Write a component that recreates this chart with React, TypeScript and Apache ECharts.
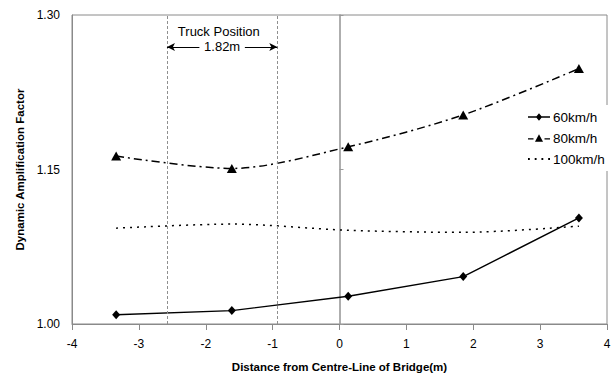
import { useEffect, useRef } from "react";
import * as echarts from "echarts";

// Lateral truck positions (m from centre-line) and dynamic amplification factors
const positions = [-3.34, -1.61, 0.13, 1.85, 3.58];
const daf60 = [1.009, 1.013, 1.027, 1.046, 1.103];
const daf80 = [1.163, 1.151, 1.172, 1.203, 1.248];
const daf100 = [1.093, 1.097, 1.091, 1.089, 1.095];
const speedNames = ["60km/h", "80km/h", "100km/h"];

// Wheel-line extent of the truck and its annotation
const truckEdges = [-2.58, -0.93];
const truckWidthLabel = "1.82m";
const truckTitle = "Truck Position";
const annotationLevel = 1.269;
const titleLevel = 1.284;
const labelHalfGap = 0.34;

const xTicks = { min: -4, max: 4, interval: 1 };
const yTicks = { min: 1.0, max: 1.3, interval: 0.15 };

const FONT = '"Liberation Sans", Arial, Helvetica, sans-serif';
const AXIS_GREY = "#8a8a8a";

// Legend keys: line with diamond, dash-triangle-dash, dotted
const ICON_60 = "path://M0 4.3L24 4.3L24 5.7L0 5.7Z M12 0.8L15.4 5L12 9.2L8.6 5Z";
const ICON_80 = "path://M0 5.3H6V6.7H0Z M18 5.3H24V6.7H18Z M12 1L16.4 9L7.6 9Z";
const ICON_100 = "path://M0 0H1.8V1.8H0Z M6.6 0H8.4V1.8H6.6Z M13.2 0H15V1.8H13.2Z M19.8 0H21.6V1.8H19.8Z";

const pairs = (ys: number[]) => positions.map((x, i) => [x, ys[i]]);

export default function App() {
  const ref = useRef<HTMLDivElement>(null);

  useEffect(() => {
    if (!ref.current) return;
    const chart = echarts.init(ref.current, null, { renderer: "svg" });
    const mid = (truckEdges[0] + truckEdges[1]) / 2;
    const arrowStyle = { color: "#000", width: 1, type: "solid" };
    const annotationText = { fontFamily: FONT, fontSize: 13, color: "#000" };

    chart.setOption({
      animation: false,
      backgroundColor: "#ffffff",
      textStyle: { fontFamily: FONT },
      grid: {
        left: 72,
        right: 8,
        top: 15,
        bottom: 54,
        show: true,
        borderColor: AXIS_GREY,
        borderWidth: 1,
      },
      legend: {
        orient: "vertical",
        left: 523,
        top: 105,
        padding: [5, 4, 5, 5],
        backgroundColor: "#ffffff",
        itemWidth: 22,
        itemHeight: 14,
        itemGap: 7,
        symbolKeepAspect: true,
        itemStyle: { color: "#000", borderWidth: 0 },
        textStyle: { fontFamily: FONT, fontSize: 13.5, color: "#000", padding: [0, 0, 0, -2] },
        data: [
          { name: speedNames[0], icon: ICON_60 },
          { name: speedNames[1], icon: ICON_80 },
          { name: speedNames[2], icon: ICON_100 },
        ],
      },
      xAxis: {
        type: "value",
        ...xTicks,
        name: "Distance from Centre-Line of Bridge(m)",
        nameLocation: "middle",
        nameGap: 37,
        nameTextStyle: { fontFamily: FONT, fontWeight: "bold", fontSize: 11.5, color: "#000" },
        axisLine: { onZero: false, lineStyle: { color: AXIS_GREY, width: 1 } },
        axisTick: { show: true, length: 6, lineStyle: { color: AXIS_GREY } },
        axisLabel: { fontFamily: FONT, fontSize: 12, color: "#000", margin: 14 },
        splitLine: { show: false },
      },
      yAxis: [
        {
          type: "value",
          ...yTicks,
          name: "Dynamic Amplification Factor",
          nameLocation: "middle",
          nameGap: 46,
          nameTextStyle: { fontFamily: FONT, fontWeight: "bold", fontSize: 11.5, color: "#000" },
          axisLine: { show: true, onZero: false, lineStyle: { color: AXIS_GREY, width: 1 } },
          axisTick: { show: false },
          axisLabel: {
            fontFamily: FONT,
            fontSize: 12,
            color: "#000",
            margin: 12,
            formatter: (v: number) => v.toFixed(2),
          },
          splitLine: { show: false },
        },
        {
          // centre-line of the bridge, drawn as an axis crossing at x = 0
          type: "value",
          ...yTicks,
          position: "left",
          axisLine: { show: true, onZero: true, lineStyle: { color: "#9a9a9a", width: 1.6 } },
          axisTick: { show: true, inside: true, length: 4, lineStyle: { color: "#9a9a9a" } },
          axisLabel: { show: false },
          splitLine: { show: false },
        },
      ],
      series: [
        {
          name: speedNames[0],
          type: "line",
          data: pairs(daf60),
          symbol: "diamond",
          symbolSize: [8, 9],
          itemStyle: { color: "#000" },
          lineStyle: { color: "#000", width: 1.4, type: "solid" },
          z: 4,
        },
        {
          name: speedNames[1],
          type: "line",
          data: pairs(daf80),
          symbol: "triangle",
          symbolSize: [10, 9],
          smooth: 0.3,
          itemStyle: { color: "#000" },
          lineStyle: { color: "#000", width: 1.5, type: [8, 4, 2, 4] },
          z: 4,
        },
        {
          name: speedNames[2],
          type: "line",
          data: pairs(daf100),
          symbol: "none",
          showSymbol: false,
          smooth: 0.3,
          itemStyle: { color: "#000" },
          lineStyle: { color: "#000", width: 1.5, type: [2, 5] },
          z: 4,
          markLine: {
            silent: true,
            symbol: ["none", "none"],
            label: { show: false },
            data: [
              ...truckEdges.map((x) => ({
                xAxis: x,
                lineStyle: { color: "#8f8f8f", width: 1, type: [3, 2] },
              })),
              [
                { coord: [truckEdges[0], annotationLevel], symbol: "arrow", symbolSize: [6, 8], lineStyle: arrowStyle },
                { coord: [mid - labelHalfGap, annotationLevel], symbol: "none" },
              ],
              [
                { coord: [mid + labelHalfGap, annotationLevel], symbol: "none", lineStyle: arrowStyle },
                { coord: [truckEdges[1], annotationLevel], symbol: "arrow", symbolSize: [6, 8] },
              ],
            ],
          },
          markPoint: {
            silent: true,
            symbolSize: 0,
            data: [
              {
                coord: [mid - 0.05, titleLevel],
                label: { show: true, position: "inside", formatter: truckTitle, ...annotationText },
              },
              {
                coord: [mid, annotationLevel],
                label: { show: true, position: "inside", formatter: truckWidthLabel, ...annotationText },
              },
            ],
          },
        },
      ],
    });
    return () => chart.dispose();
  }, []);

  return (
    <div
      ref={ref}
      style={{ position: "fixed", left: 0, top: 0, width: 615, height: 378, background: "#fff" }}
    />
  );
}
